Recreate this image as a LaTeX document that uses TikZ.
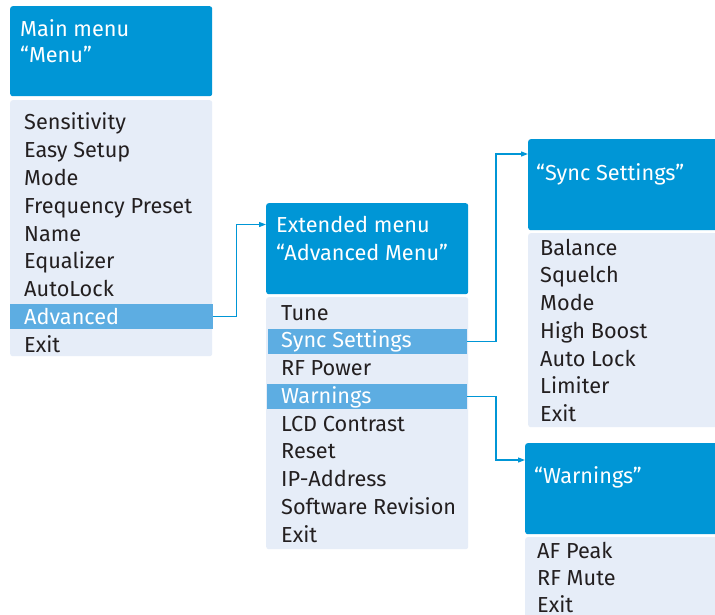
\documentclass[tikz,border=0pt]{standalone}
\usepackage{fontspec}
\setmainfont{Fira Sans}
\usetikzlibrary{arrows.meta}
\definecolor{hdr}{RGB}{0,150,214}
\definecolor{barc}{RGB}{93,173,226}
\definecolor{bodyc}{RGB}{230,237,248}
\definecolor{txt}{RGB}{35,31,32}
\begin{document}
\begin{tikzpicture}[x=1pt,y=-1pt,
  hdrbox/.style={fill=hdr, rounded corners=2.5pt, inner sep=0pt, anchor=north west},
  bodybox/.style={fill=bodyc, rounded corners=2.5pt, inner sep=0pt, anchor=north west},
  barbox/.style={fill=barc, inner sep=0pt, anchor=north west},
  htext/.style={anchor=base west, inner sep=0pt, text=white, font=\fontsize{21.7}{24}\selectfont},
  itext/.style={anchor=base west, inner sep=0pt, text=txt, font=\fontsize{21.7}{24}\selectfont},
  stext/.style={itext, text=white},
  link/.style={draw=hdr, line width=1.2pt, -{Triangle[length=7pt,width=5pt]}}
]
\useasboundingbox (0,0) rectangle (715,615);
\clip (0,0) rectangle (715,615);
\fill[white] (0,0) rectangle (715,615);

% ---------- Main menu ----------
\node[hdrbox, minimum width=202pt, minimum height=90pt] (mh) at (10,6) {};
\node[bodybox, minimum width=202pt, minimum height=256pt] (mb) at (10,100) {};
\node[barbox, minimum width=203pt, minimum height=25pt] (mbar) at (10,304) {};
\node[htext] (mh1) at (20,37) {Main menu};
\node[htext] (mh2) at (20,63) {“Menu”};
\node[itext] (m1) at (24,130) {Sensitivity};
\node[itext] (m2) at (24,157.75) {Easy Setup};
\node[itext] (m3) at (24,185.5) {Mode};
\node[itext] (m4) at (24,213.25) {Frequency Preset};
\node[itext] (m5) at (24,241) {Name};
\node[itext] (m6) at (24,268.75) {Equalizer};
\node[itext] (m7) at (24,296.5) {AutoLock};
\node[stext] (m8) at (24,324.25) {Advanced};
\node[itext] (m9) at (24,352) {Exit};

% ---------- Extended menu ----------
\node[hdrbox, minimum width=202pt, minimum height=91pt] (eh) at (266,203) {};
\node[bodybox, minimum width=202pt, minimum height=252pt] (eb) at (266,297) {};
\node[barbox, minimum width=199pt, minimum height=25pt] (ebar1) at (268,329) {};
\node[barbox, minimum width=200pt, minimum height=25pt] (ebar2) at (267,384) {};
\node[htext] (eh1) at (276,232) {Extended menu};
\node[htext] (eh2) at (276,260) {“Advanced Menu”};
\node[itext] (e1) at (281,320) {Tune};
\node[stext] (e2) at (281,347.75) {Sync Settings};
\node[itext] (e3) at (281,375.5) {RF Power};
\node[stext] (e4) at (281,403.25) {Warnings};
\node[itext] (e5) at (281,431) {LCD Contrast};
\node[itext] (e6) at (281,458.75) {Reset};
\node[itext] (e7) at (281,486.5) {IP-Address};
\node[itext] (e8) at (281,514.25) {Software Revision};
\node[itext] (e9) at (281,542) {Exit};

% ---------- Sync Settings ----------
\node[hdrbox, minimum width=200pt, minimum height=91pt] (sh) at (528,139) {};
\node[bodybox, minimum width=200pt, minimum height=194pt] (sb) at (528,233) {};
\node[htext] (sh1) at (536,180) {“Sync Settings”};
\node[itext] (s1) at (540,255) {Balance};
\node[itext] (s2) at (540,282.75) {Squelch};
\node[itext] (s3) at (540,310.5) {Mode};
\node[itext] (s4) at (540,338.25) {High Boost};
\node[itext] (s5) at (540,366) {Auto Lock};
\node[itext] (s6) at (540,393.75) {Limiter};
\node[itext] (s7) at (540,421.5) {Exit};

% ---------- Warnings ----------
\node[hdrbox, minimum width=200pt, minimum height=91pt] (wh) at (525,443) {};
\node[bodybox, minimum width=200pt, minimum height=100pt] (wb) at (525,537) {};
\node[htext] (wh1) at (534,483) {“Warnings”};
\node[itext] (w1) at (537,558) {AF Peak};
\node[itext] (w2) at (537,585.75) {RF Mute};
\node[itext] (w3) at (537,612.5) {Exit};

% ---------- connectors ----------
\coordinate (j1) at (236.5,0);
\coordinate (j2) at (496,0);
\draw[link] (mbar.east) -- (mbar.east -| j1) |- (eh.west |- 0,224.5);
\draw[link] (ebar1.east) -- (ebar1.east -| j2) |- (sh.west |- 0,154);
\draw[link] (ebar2.east) -- (ebar2.east -| j2) |- (wh.west |- 0,460);
\end{tikzpicture}
\end{document}
